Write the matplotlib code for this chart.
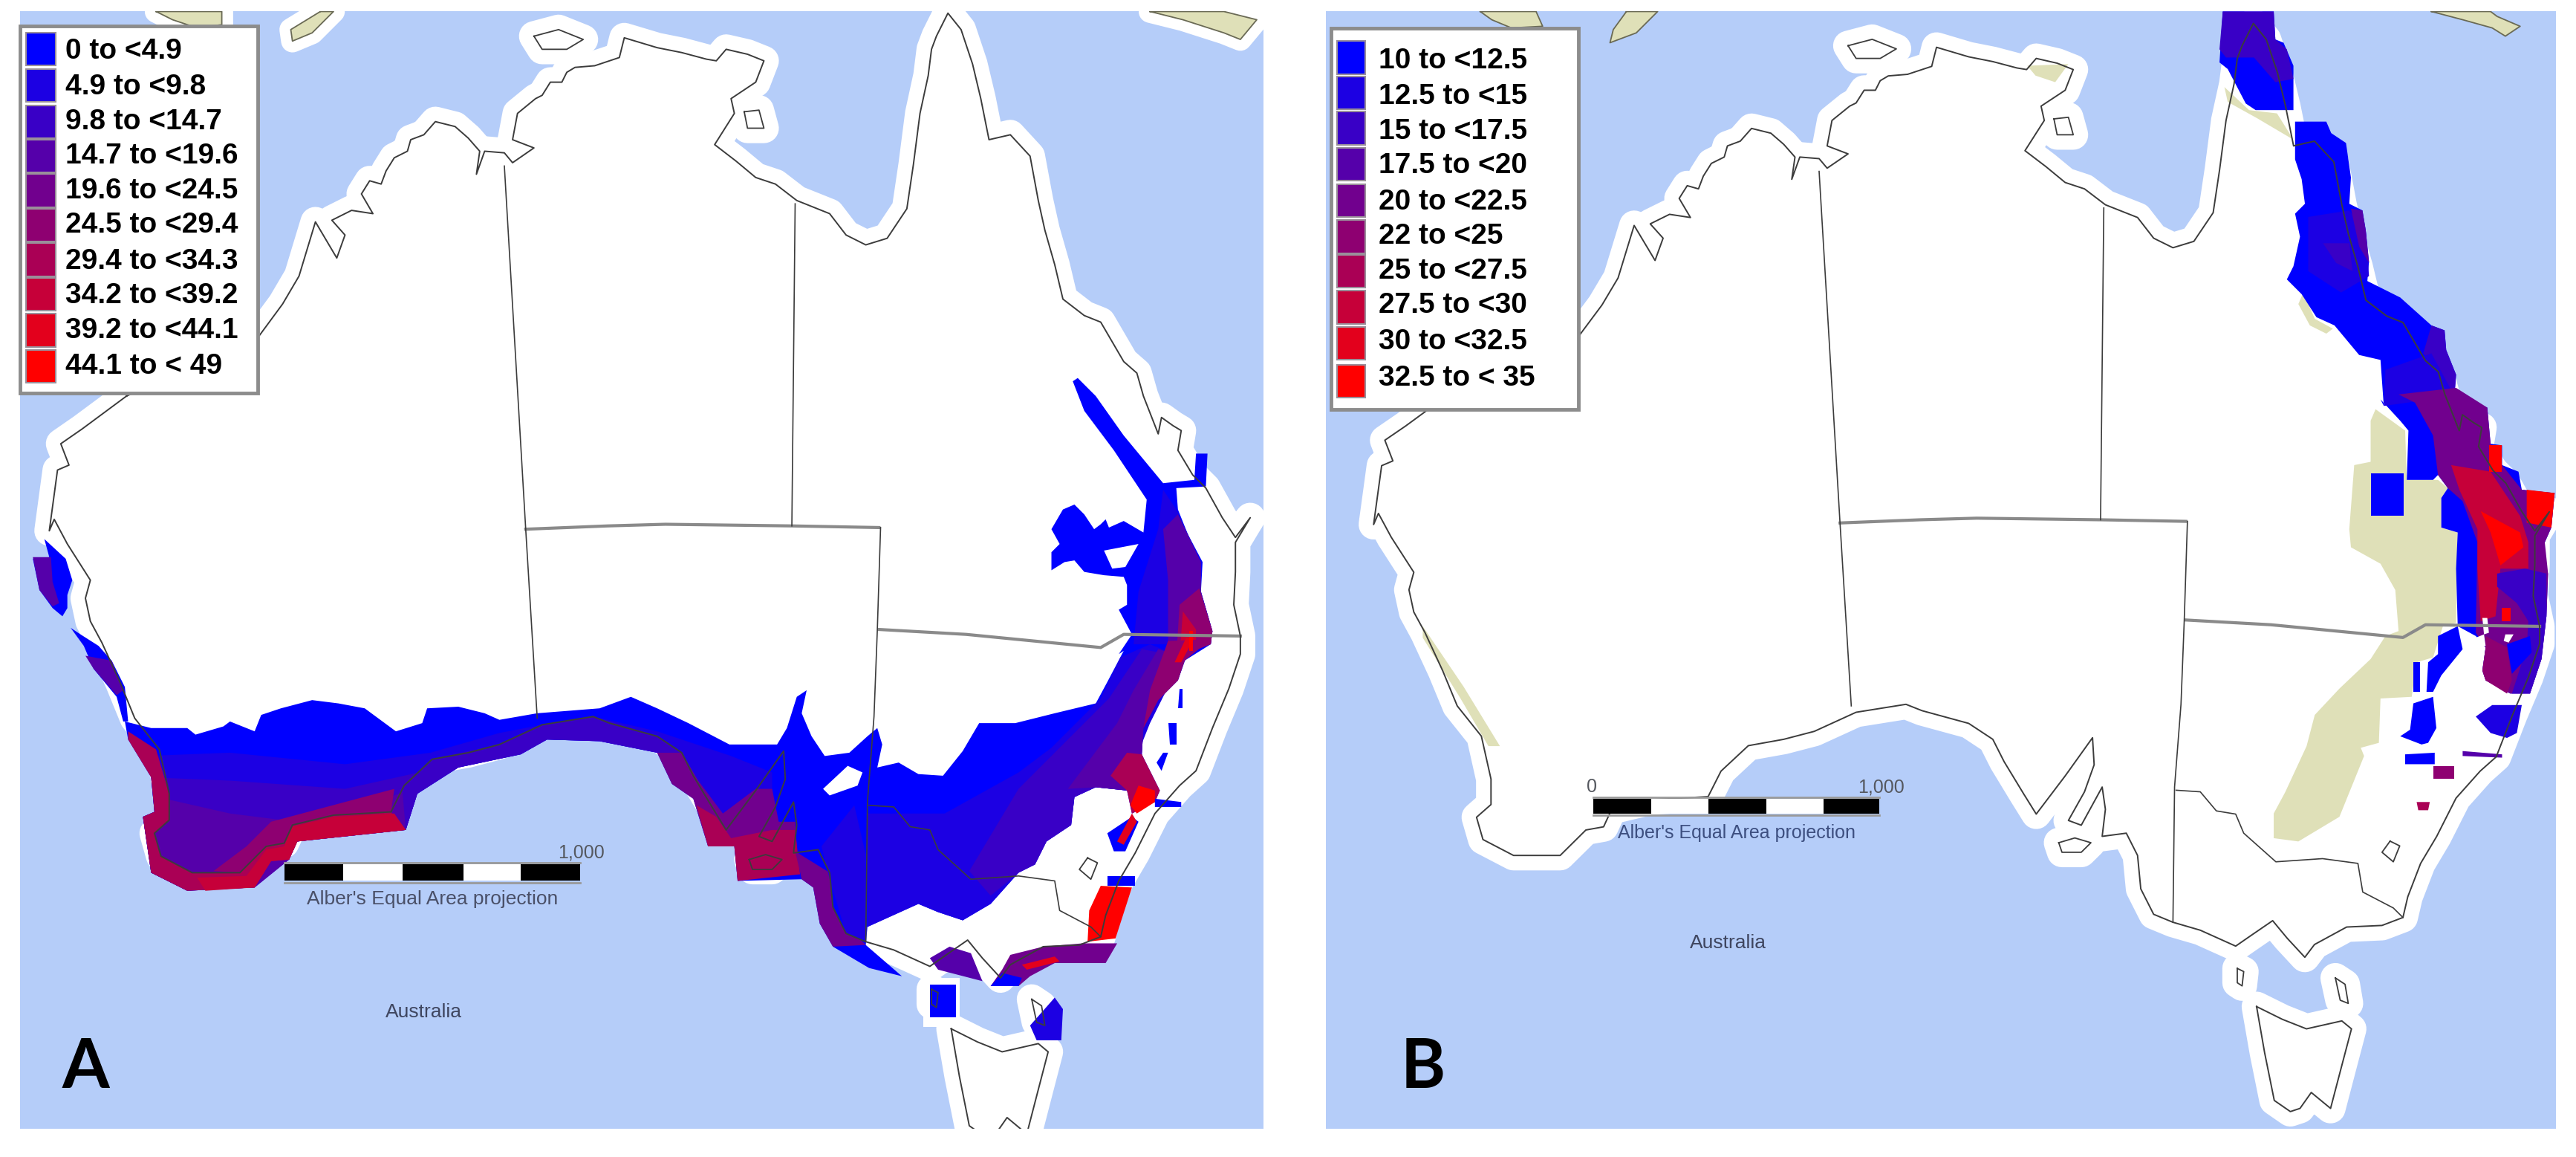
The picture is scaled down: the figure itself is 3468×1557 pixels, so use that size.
import matplotlib
matplotlib.use("Agg")
import matplotlib.pyplot as plt
from matplotlib.patches import Polygon, Rectangle

plt.rcParams['font.family'] = ['Liberation Sans', 'DejaVu Sans']

OCEAN = "#B5CDF9"
BEIGE = "#DFE0B8"
LEVEL_COLORS = ["#0000FF", "#1C00E3", "#3900C6", "#5500AA", "#71008E",
                "#8E0071", "#AA0055", "#C60039", "#E3001C", "#FF0000"]
LABELS_A = ["0 to <4.9", "4.9 to <9.8", "9.8 to <14.7", "14.7 to <19.6", "19.6 to <24.5",
            "24.5 to <29.4", "29.4 to <34.3", "34.2 to <39.2", "39.2 to <44.1", "44.1 to < 49"]
LABELS_B = ["10 to <12.5", "12.5 to <15", "15 to <17.5", "17.5 to <20", "20 to <22.5",
            "22 to <25", "25 to <27.5", "27.5 to <30", "30 to <32.5", "32.5 to < 35"]

# outlines, all read in panel A pixels (1568 x 704 picture)
COAST = [(77, 241), (50, 261), (37, 270), (42, 283), (35, 286), (30, 323), (33, 316), (41, 331), (55, 353),
         (52, 364), (55, 378), (62, 391), (73, 415), (82, 437), (97, 456), (103, 483), (103, 499), (94, 507),
         (98, 521), (117, 531), (146, 531), (162, 515), (173, 513), (178, 502), (203, 496), (238, 494),
         (246, 478), (263, 462), (285, 458), (304, 453), (330, 441), (361, 436), (371, 440), (400, 448),
         (415, 458), (422, 472), (434, 492), (442, 505), (460, 481), (477, 457), (478, 474), (472, 491),
         (462, 509), (470, 512), (483, 488), (485, 502), (483, 519), (498, 517), (505, 531), (507, 552),
         (515, 568), (527, 573), (544, 578), (566, 588), (576, 581), (589, 572), (598, 583), (609, 595),
         (615, 587), (635, 576), (657, 575), (670, 570), (673, 557), (681, 536), (691, 519), (703, 495),
         (718, 478), (728, 469), (738, 443), (748, 419), (755, 398), (755, 387), (751, 368), (752, 348),
         (752, 330), (761, 315), (752, 327), (744, 315), (734, 297), (726, 289), (717, 274), (719, 262),
         (714, 259), (707, 254), (705, 264), (696, 241), (692, 227), (684, 220), (670, 196), (660, 192),
         (647, 182), (642, 161), (636, 140), (632, 122), (627, 95), (615, 82), (602, 85), (597, 60), (592, 39),
         (585, 18), (577, 8), (570, 22), (567, 30), (565, 46), (560, 69), (556, 100), (552, 127), (540, 145),
         (527, 149), (515, 143), (505, 130), (485, 122), (472, 112), (460, 108), (448, 98), (435, 88),
         (447, 69), (445, 60), (460, 50), (465, 37), (455, 33), (442, 30), (436, 37), (430, 36), (415, 32),
         (400, 29), (380, 23), (377, 35), (362, 40), (350, 41), (345, 44), (342, 50), (335, 50), (330, 58),
         (326, 60), (315, 69), (312, 85), (325, 90), (312, 99), (307, 93), (295, 92), (290, 106), (292, 92),
         (285, 84), (277, 77), (265, 74), (258, 82), (250, 85), (248, 92), (240, 96), (235, 104), (232, 112),
         (225, 110), (220, 118), (227, 130), (214, 128), (202, 134), (210, 143), (205, 157), (192, 135),
         (182, 168), (172, 185), (158, 204)]
TASMANIA = [(579, 626), (595, 634), (610, 640), (632, 635), (638, 640), (632, 663), (625, 690), (613, 680), (606, 690),
            (600, 692), (590, 685), (584, 655)]
ISLANDS = [[(456, 523), (466, 520), (476, 523), (470, 529), (458, 529)],
           [(567, 602), (571, 604), (570, 613), (567, 611)],
           [(628, 608), (634, 612), (636, 624), (631, 622)],
           [(325, 22), (340, 18), (355, 24), (345, 30), (330, 30)],
           [(453, 68), (462, 67), (465, 78), (455, 78)]]
LAKE = [(662, 522), (668, 525), (664, 535), (657, 529)]

THIN_BORDERS = [[(307, 101), (320, 322), (327, 437)],
                [(484, 124), (482, 320)],
                [(536, 321), (534, 384), (532, 436), (528, 488), (527, 573)],
                [(529, 490), (544, 491), (554, 503), (566, 505), (571, 517), (591, 535), (620, 533),
                 (642, 536), (645, 554), (664, 564), (670, 570)]]
THICK_BORDERS = [[(320, 322), (370, 320), (405, 319), (482, 320), (535, 321)],
                 [(535, 383), (588, 386), (670, 394), (684, 386), (755, 387)]]

NEIGHBOURS_A = [[(95, 7), (135, 7), (135, 15), (120, 17), (105, 12)],
                [(195, 7), (203, 7), (190, 20), (178, 25), (177, 18)],
                [(700, 7), (720, 12), (745, 20), (755, 24), (765, 12), (745, 7)]]
NEIGHBOURS_B = [[(901, 7), (935, 7), (939, 16), (920, 17), (908, 12)],
                [(990, 7), (1009, 7), (996, 20), (980, 26), (982, 18)],
                [(1480, 7), (1499, 12), (1517, 17), (1525, 22), (1534, 16), (1520, 10), (1516, 7)]]

# panel A climate cells: (level, outline), painted in this order
CELLS_A = [
    (0, [(76, 439), (92, 443), (114, 443), (119, 447), (136, 442), (140, 439), (155, 445), (159, 435), (171, 431),
         (190, 426), (206, 428), (222, 431), (241, 445), (257, 440), (260, 431), (279, 430), (295, 434), (304, 438),
         (327, 434), (365, 431), (384, 424), (400, 431), (419, 440), (444, 453), (473, 453), (479, 443), (485, 424),
         (491, 420), (488, 434), (494, 448), (502, 460), (517, 458), (528, 448), (534, 443), (537, 453), (534, 467),
         (547, 464), (559, 471), (574, 472), (586, 457), (596, 440), (618, 440), (642, 434), (667, 428), (674, 415),
         (684, 396), (681, 398), (689, 386), (681, 371), (686, 368), (686, 356), (684, 351), (672, 350), (660, 348),
         (654, 341), (648, 342), (640, 347), (640, 336), (645, 331), (640, 322), (647, 310), (654, 307), (660, 313),
         (666, 322), (670, 319), (673, 316), (675, 321), (684, 317), (696, 324), (698, 304), (692, 295), (678, 274),
         (660, 250), (653, 232), (656, 230), (667, 241), (684, 265), (708, 294), (727, 292), (728, 276), (735, 276),
         (734, 296), (716, 297), (717, 310), (723, 325), (732, 342), (731, 360), (738, 384), (737, 392), (721, 402),
         (717, 414), (705, 426), (696, 443), (695, 459), (706, 481), (703, 488), (689, 495), (686, 481), (667, 479),
         (654, 485), (652, 502), (637, 512), (630, 526), (620, 531), (603, 550), (586, 560), (571, 555), (559, 550),
         (528, 564), (527, 575), (549, 594), (529, 589), (507, 576), (499, 562), (495, 540), (488, 535), (449, 536),
         (447, 515), (431, 515), (422, 486), (409, 477), (400, 458), (365, 451), (333, 450), (317, 459), (279, 467),
         (254, 483), (247, 505), (181, 512), (176, 523), (165, 524), (155, 540), (114, 542), (92, 531), (87, 497),
         (94, 494), (92, 473), (78, 450)]),
    (1, [(88, 460), (140, 458), (210, 465), (262, 458), (304, 446), (330, 441), (361, 436), (400, 445), (445, 460),
         (470, 470), (470, 495), (442, 505), (400, 458), (365, 451), (333, 450), (317, 459), (279, 467), (254, 483),
         (247, 505), (181, 512), (114, 542), (92, 531), (87, 497), (94, 494), (92, 473)]),
    (2, [(92, 473), (140, 475), (210, 480), (255, 470), (262, 466), (254, 483), (247, 505), (181, 512), (176, 523),
         (155, 540), (114, 542), (92, 531), (87, 497), (94, 494)]),
    (3, [(96, 485), (140, 495), (180, 500), (230, 488), (245, 482), (247, 505), (181, 512), (176, 523), (155, 540),
         (114, 542), (92, 531), (87, 497), (94, 494)]),
    (5, [(165, 500), (240, 480), (238, 494), (178, 502), (173, 513), (162, 515), (146, 531), (130, 530), (150, 515)]),
    (6, [(78, 445), (95, 456), (103, 483), (103, 499), (94, 507), (98, 521), (117, 531), (146, 531), (162, 515),
         (173, 513), (178, 502), (203, 496), (238, 494), (247, 505), (181, 512), (176, 523), (165, 524), (155, 540),
         (114, 542), (92, 531), (87, 497), (94, 494), (92, 473), (78, 450)]),
    (7, [(240, 495), (203, 497), (178, 503), (173, 515), (162, 517), (150, 533), (120, 534), (125, 542), (155, 540),
         (165, 524), (176, 523), (181, 512), (247, 505)]),
    (2, [(246, 478), (263, 462), (304, 453), (330, 441), (361, 436), (400, 448), (415, 458), (400, 458), (365, 451),
         (333, 450), (317, 459), (279, 467), (254, 483), (247, 505)]),
    (4, [(400, 458), (415, 458), (425, 475), (440, 495), (460, 480), (470, 480), (474, 500), (484, 500), (486, 530),
         (449, 536), (447, 515), (431, 515), (422, 486), (409, 477)]),
    (6, [(424, 490), (436, 497), (445, 510), (470, 505), (484, 505), (487, 532), (449, 536), (447, 515), (431, 515)]),
    (4, [(484, 518), (505, 531), (507, 552), (515, 568), (524, 572), (527, 575), (507, 576), (499, 562), (495, 540),
         (488, 535)]),
    (1, [(500, 515), (520, 490), (527, 520), (527, 572), (515, 568), (505, 535)]),
    (1, [(528, 495), (575, 495), (620, 470), (640, 455), (670, 425), (682, 400), (700, 392), (720, 400), (700, 440),
         (692, 460), (700, 480), (686, 481), (667, 479), (654, 485), (652, 502), (637, 512), (630, 526), (620, 531),
         (603, 550), (586, 560), (571, 555), (559, 550), (528, 564)]),
    (2, [(590, 530), (620, 480), (650, 450), (675, 425), (695, 395), (722, 400), (717, 414), (705, 426), (696, 443),
         (695, 459), (700, 475), (686, 481), (667, 479), (654, 485), (652, 502), (637, 512), (630, 526), (620, 531),
         (603, 545)]),
    (3, [(650, 480), (680, 440), (690, 420), (705, 395), (722, 400), (705, 426), (696, 443), (695, 459), (703, 480),
         (686, 481), (667, 479)]),
    (6, [(686, 458), (695, 459), (706, 481), (703, 488), (689, 495), (686, 481), (676, 472)]),
    (9, [(688, 490), (693, 478), (703, 481), (703, 488), (692, 495)]),
    (1, [(708, 298), (716, 310), (731, 342), (731, 360), (738, 384), (737, 392), (690, 392), (693, 360), (705, 322)]),
    (3, [(708, 322), (717, 313), (731, 342), (731, 360), (738, 384), (737, 392), (711, 398), (711, 353)]),
    (5, [(718, 368), (730, 358), (738, 384), (737, 392), (716, 400)]),
    (7, [(720, 372), (728, 383), (728, 392), (718, 400)]),
    (5, [(711, 390), (737, 389), (721, 402), (717, 414), (705, 426), (696, 443), (700, 420)]),
    (8, [(722, 388), (727, 388), (719, 403), (715, 403)]),
    (9, [(724, 384), (726, 384), (726, 396), (724, 396)]),
    # west coast slivers
    (0, [(27, 328), (40, 340), (44, 353), (41, 362), (41, 370), (38, 375), (32, 370), (24, 359), (20, 340), (30, 339)]),
    (3, [(20, 339), (31, 339), (32, 354), (36, 367), (32, 369), (24, 359)]),
    (0, [(43, 382), (49, 386), (60, 393), (68, 402), (76, 418), (78, 439), (75, 439), (71, 424), (57, 407), (51, 393)]),
    (3, [(52, 399), (68, 402), (75, 420), (71, 423), (57, 407)]),
    # south east coast cells
    (0, [(718, 419), (720, 419), (720, 431), (717, 431)]),
    (0, [(711, 440), (716, 440), (716, 453), (712, 453)]),
    (0, [(708, 458), (711, 458), (707, 469), (704, 464)]),
    (0, [(703, 486), (719, 488), (719, 491), (703, 491)]),
    (0, [(689, 497), (693, 500), (685, 518), (678, 518), (674, 507)]),
    (8, [(689, 495), (692, 500), (684, 514), (680, 512)]),
    (0, [(674, 533), (691, 533), (691, 539), (674, 539)]),
    (9, [(670, 539), (689, 540), (679, 571), (662, 573), (663, 554)]),
    (4, [(662, 574), (680, 574), (673, 586), (642, 586), (627, 594), (620, 600), (603, 600), (610, 590), (615, 581),
         (635, 576), (659, 574)]),
    (8, [(622, 587), (642, 582), (645, 585), (625, 590)]),
    (0, [(603, 600), (620, 600), (622, 595), (610, 592)]),
    (3, [(566, 583), (578, 576), (591, 580), (598, 597), (571, 590)]),
    (1, [(627, 624), (642, 607), (647, 614), (646, 633), (631, 633)]),
]
HOLES_A = [[(672, 335), (693, 331), (685, 345), (677, 346)],
           [(501, 480), (516, 466), (525, 470), (522, 478), (505, 484)]]
BASS_CELL = (0, [(566, 599), (582, 599), (582, 619), (566, 619)])
BASS_PAD = [(562, 595), (584, 595), (584, 625), (562, 625)]

# panel B outlines, already in picture pixels
BEIGE_B = [[(1446, 249), (1464, 262), (1465, 292), (1484, 292), (1490, 297), (1486, 303), (1486, 321), (1496, 324),
            (1495, 379), (1487, 381), (1481, 400), (1471, 403), (1468, 424), (1449, 425), (1448, 452), (1437, 455),
            (1439, 460), (1424, 497), (1399, 512), (1384, 510), (1384, 495), (1391, 482), (1404, 454), (1409, 435),
            (1424, 419), (1443, 401), (1452, 387), (1460, 384), (1458, 359), (1449, 343), (1431, 333), (1430, 322),
            (1433, 283), (1443, 281), (1443, 256)],
           [(1354, 53), (1369, 67), (1386, 69), (1396, 85), (1374, 72), (1356, 62)],
           [(1402, 178), (1409, 194), (1420, 200), (1416, 203), (1406, 198), (1399, 185)],
           [(866, 381), (891, 418), (913, 454), (906, 454), (889, 425), (866, 388)],
           [(1234, 40), (1259, 39), (1251, 50), (1239, 46)]]
CELLS_B = [
    (0, [(1353, 7), (1384, 7), (1385, 24), (1390, 26), (1396, 40), (1396, 67), (1373, 67), (1367, 63), (1356, 42),
         (1351, 38)]),
    (2, [(1353, 7), (1384, 7), (1385, 24), (1392, 30), (1396, 48), (1385, 50), (1372, 35), (1355, 35), (1351, 30)]),
    (0, [(1397, 74), (1416, 74), (1419, 81), (1428, 87), (1431, 108), (1430, 124), (1438, 128), (1440, 140), (1442, 159),
         (1441, 171), (1461, 181), (1480, 198), (1488, 201), (1489, 213), (1495, 228), (1494, 241), (1514, 248),
         (1516, 270), (1523, 271), (1523, 283), (1533, 287), (1535, 298), (1555, 300), (1553, 321), (1549, 330),
         (1548, 344), (1551, 349), (1550, 375), (1547, 401), (1540, 422), (1528, 422), (1513, 414), (1511, 408),
         (1513, 394), (1507, 387), (1496, 381), (1495, 346), (1496, 324), (1486, 321), (1486, 303), (1490, 297),
         (1484, 289), (1481, 292), (1465, 292), (1466, 262), (1461, 256), (1449, 243), (1451, 247), (1449, 219),
         (1436, 216), (1421, 198), (1410, 193), (1401, 179), (1392, 170), (1396, 162), (1400, 144), (1397, 130),
         (1403, 124), (1401, 109), (1397, 97)]),
    (1, [(1405, 132), (1430, 128), (1440, 140), (1442, 168), (1425, 178), (1405, 165)]),
    (3, [(1431, 127), (1438, 128), (1440, 140), (1442, 160), (1436, 150)]),
    (2, [(1414, 148), (1430, 148), (1432, 165), (1422, 160)]),
    (2, [(1480, 198), (1488, 201), (1489, 213), (1495, 228), (1494, 241), (1475, 215)]),
    (1, [(1452, 225), (1480, 215), (1494, 241), (1451, 247)]),
    (4, [(1460, 240), (1495, 236), (1514, 248), (1516, 270), (1523, 283), (1535, 298), (1555, 300), (1553, 321),
         (1549, 330), (1551, 349), (1550, 375), (1547, 401), (1540, 422), (1528, 422), (1513, 414), (1511, 408),
         (1513, 394), (1507, 385), (1508, 330), (1499, 305), (1490, 297), (1484, 289), (1481, 265), (1470, 245)]),
    (7, [(1492, 283), (1516, 287), (1534, 314), (1539, 330), (1539, 346), (1522, 346), (1519, 375), (1510, 378),
         (1508, 346), (1508, 322), (1497, 298)]),
    (9, [(1510, 311), (1534, 324), (1536, 333), (1522, 344), (1516, 324)]),
    (9, [(1538, 298), (1555, 300), (1553, 321), (1538, 318)]),
    (9, [(1515, 271), (1523, 271), (1523, 287), (1515, 287)]),
    (9, [(1523, 370), (1528, 370), (1528, 378), (1523, 378)]),
    (2, [(1520, 349), (1537, 346), (1550, 349), (1550, 375), (1547, 401), (1540, 422), (1529, 422), (1538, 394),
         (1539, 378), (1532, 367), (1520, 357)]),
    (5, [(1513, 387), (1526, 394), (1529, 414), (1526, 422), (1513, 414), (1511, 408), (1513, 394)]),
    (0, [(1526, 392), (1540, 387), (1541, 397), (1529, 410)]),
    (0, [(1443, 288), (1463, 288), (1463, 314), (1443, 314)]),
    (0, [(1484, 387), (1496, 381), (1499, 395), (1486, 411), (1481, 421), (1477, 421), (1478, 403), (1484, 398)]),
    (0, [(1469, 403), (1473, 403), (1473, 421), (1469, 421)]),
    (0, [(1469, 428), (1481, 424), (1483, 443), (1478, 452), (1474, 453), (1461, 448), (1467, 444)]),
    (0, [(1464, 459), (1482, 458), (1482, 465), (1464, 465)]),
    (5, [(1481, 466), (1494, 466), (1494, 474), (1481, 474)]),
    (1, [(1507, 436), (1517, 429), (1535, 429), (1532, 446), (1526, 449), (1516, 446)]),
    (3, [(1499, 457), (1523, 459), (1523, 461), (1499, 460)]),
    (6, [(1471, 488), (1479, 488), (1478, 493), (1472, 493)]),
]
HOLES_B = [[(1511, 376), (1514, 376), (1515, 385), (1512, 386)],
           [(1525, 386), (1530, 386), (1527, 391), (1524, 390)],
           [(1507, 388), (1512, 386), (1513, 393), (1504, 394)],
           [(1473, 403), (1476, 403), (1476, 420), (1473, 420)]]


def to_b(points):
    # panel B shows the same map a little smaller
    return [(934 + (x - 130) * 0.979, 124.6 + (y - 122) * 0.968) for x, y in points]


def fill(ax, points, color, clip, z, **kw):
    p = Polygon(points, closed=True, facecolor=color, edgecolor=kw.pop("edgecolor", "none"), zorder=z, **kw)
    ax.add_patch(p)
    p.set_clip_path(clip)
    return p


def line(ax, points, color, lw, clip, z, closed=False):
    pts = list(points) + ([points[0]] if closed else [])
    l, = ax.plot([p[0] for p in pts], [p[1] for p in pts], color=color, lw=lw, zorder=z, solid_joinstyle="round")
    l.set_clip_path(clip)


def draw_map(ax, left, right, move, neighbours, neighbour_pad):
    frame = Rectangle((left, 7), right - left, 680, facecolor=OCEAN, edgecolor="none", zorder=1)
    ax.add_patch(frame)
    for shape in [COAST, TASMANIA] + ISLANDS:
        fill(ax, move(shape), "white", frame, 2, edgecolor="white", linewidth=29, joinstyle="round")
    for shape in neighbours:
        if neighbour_pad:
            fill(ax, shape, "white", frame, 2, edgecolor="white", linewidth=neighbour_pad, joinstyle="round")
    for shape in neighbours:
        fill(ax, shape, BEIGE, frame, 3)
        line(ax, shape, "#6a6a55", 1.3, frame, 8, closed=True)
    return frame


def draw_legend(ax, x0, x1, y0, y1, sw_x, sw_w, sw_y, text_x, text_y, labels):
    ax.add_patch(Rectangle((x0, y0), x1 - x0, y1 - y0, facecolor="white", edgecolor="#8c8c8c", linewidth=3.5, zorder=20))
    for i in range(10):
        ax.add_patch(Rectangle((sw_x, sw_y[i] - 10), sw_w, 20, facecolor=LEVEL_COLORS[i], edgecolor="#9a8f9a",
                               linewidth=1.5, zorder=21))
        ax.text(text_x, text_y[i], labels[i], fontsize=28, fontweight="bold", color="black", va="center", ha="left",
                zorder=22)


def draw_scale(ax, stops, y0, y1):
    for i in range(5):
        ax.add_patch(Rectangle((stops[i], y0), stops[i + 1] - stops[i], y1 - y0,
                               facecolor="black" if i % 2 == 0 else "white", edgecolor="none", zorder=15))
    ax.plot([stops[0], stops[-1]], [y0 - 1, y0 - 1], color="#9a9a9a", lw=2, zorder=16)
    ax.plot([stops[0], stops[-1]], [y1 + 1, y1 + 1], color="#9a9a9a", lw=2, zorder=16)


def main():
    fig = plt.figure(figsize=(34.68, 15.57), dpi=100)
    ax = fig.add_axes([0, 0, 1, 1])
    ax.set_xlim(0, 1568)
    ax.set_ylim(704, 0)
    ax.axis("off")

    # panel A
    frame_a = draw_map(ax, 12, 769, lambda pts: pts, NEIGHBOURS_A, 22)
    fill(ax, BASS_PAD, "white", frame_a, 4)
    for level, shape in CELLS_A + [BASS_CELL]:
        fill(ax, shape, LEVEL_COLORS[level], frame_a, 5)
    for shape in HOLES_A:
        fill(ax, shape, "white", frame_a, 6)

    # panel B
    frame_b = draw_map(ax, 807, 1556, to_b, NEIGHBOURS_B, 0)
    for shape in BEIGE_B:
        fill(ax, shape, BEIGE, frame_b, 4)
    for level, shape in CELLS_B:
        fill(ax, shape, LEVEL_COLORS[level], frame_b, 5)
    for shape in HOLES_B:
        fill(ax, shape, "white", frame_b, 6)

    # borders and coast go over the cells
    for frame, move in [(frame_a, lambda pts: pts), (frame_b, to_b)]:
        for b in THICK_BORDERS:
            line(ax, move(b), "#8a8a8a", 3, frame, 8)
        for b in THIN_BORDERS:
            line(ax, move(b), "#3c3c3c", 1.2, frame, 8)
        line(ax, move(COAST), "#3c3c3c", 1.4, frame, 9, closed=True)
        line(ax, move(TASMANIA), "#3c3c3c", 1.4, frame, 9, closed=True)
        line(ax, move(LAKE), "#3c3c3c", 1.3, frame, 9, closed=True)
        for shape in ISLANDS:
            line(ax, move(shape), "#3c3c3c", 1.3, frame, 9, closed=True)

    # scale bars
    draw_scale(ax, [173, 209, 245, 282, 317, 353], 526, 536)
    draw_scale(ax, [970, 1005, 1040, 1075, 1110, 1144], 486, 495)
    ax.text(354, 519, "1,000", fontsize=18, color="#55585f", ha="center", va="center", zorder=16)
    ax.text(263, 547, "Alber's Equal Area projection", fontsize=19, color="#4a5068", ha="center", va="center", zorder=16)
    ax.text(258, 616, "Australia", fontsize=19, color="#3f4660", ha="center", va="center", zorder=16)
    ax.text(969, 479, "0", fontsize=18, color="#55585f", ha="center", va="center", zorder=16)
    ax.text(1145, 479, "1,000", fontsize=18, color="#55585f", ha="center", va="center", zorder=16)
    ax.text(1057, 507, "Alber's Equal Area projection", fontsize=18, color="#3d4f80", ha="center", va="center", zorder=16)
    ax.text(1052, 574, "Australia", fontsize=19, color="#3f4660", ha="center", va="center", zorder=16)

    # panel letters
    ax.text(52, 650, "A", fontsize=66, fontfamily="Lato", fontweight="bold", color="black", ha="center", va="center", zorder=16)
    ax.text(866, 650, "B", fontsize=66, fontfamily="Lato", fontweight="bold", color="black", ha="center", va="center", zorder=16)

    draw_legend(ax, 12, 157, 16, 239, 16, 18,
                [30, 52, 74, 95, 116, 137, 158, 179, 201, 223],
                40, [31, 53, 74, 95, 116, 137, 159, 180, 201, 223], LABELS_A)
    draw_legend(ax, 810, 961, 17, 249, 814, 17,
                [35, 56.5, 78, 100, 122, 144, 165, 187, 209, 232],
                839, [37, 59, 80, 101, 123, 144, 165, 186, 208, 230], LABELS_B)

    fig.savefig("out.png", dpi=100, facecolor="white")


if __name__ == "__main__":
    main()
